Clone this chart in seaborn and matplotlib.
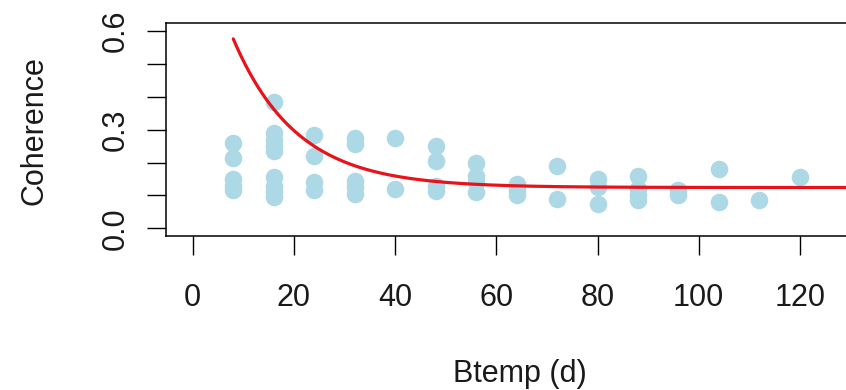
import numpy as np
import pandas as pd
import matplotlib
matplotlib.use("Agg")
import matplotlib.pyplot as plt
import seaborn as sns

# Temporal baseline (days) and coherence of each interferometric pair
btemp = [8, 8, 8, 8, 8,
         16, 16, 16, 16, 16, 16, 16, 16, 16,
         24, 24, 24, 24,
         32, 32, 32, 32, 32,
         40, 40,
         48, 48, 48, 48,
         56, 56, 56, 56,
         64, 64, 64,
         72, 72,
         80, 80, 80,
         88, 88, 88, 88,
         96, 96,
         104, 104,
         112,
         120]
coherence = [0.260, 0.215, 0.150, 0.130, 0.115,
             0.385, 0.290, 0.270, 0.250, 0.235, 0.155, 0.130, 0.110, 0.095,
             0.285, 0.220, 0.140, 0.115,
             0.275, 0.255, 0.145, 0.125, 0.105,
             0.275, 0.120,
             0.250, 0.205, 0.130, 0.112,
             0.200, 0.160, 0.140, 0.110,
             0.135, 0.115, 0.100,
             0.190, 0.090,
             0.150, 0.125, 0.075,
             0.160, 0.120, 0.100, 0.085,
             0.115, 0.100,
             0.180, 0.080,
             0.085,
             0.155]

# Fitted decay model: coherence = c_inf + c_amp * exp(-btemp / tau)
c_inf = 0.124
c_amp = 0.857
tau = 12.5
fit_start, fit_end = 8, 130

x_ticks = [0, 20, 40, 60, 80, 100, 120]
y_ticks = [0.0, 0.1, 0.2, 0.3, 0.4, 0.5, 0.6]
y_ticklabels = ["0.0", "", "", "0.3", "", "", "0.6"]

sns.set_style("white")
plt.rcParams["font.family"] = ["Liberation Sans", "DejaVu Sans"]

points = pd.DataFrame({"btemp": btemp, "coherence": coherence})
grid = np.linspace(fit_start, fit_end, 300)
fit = pd.DataFrame({"btemp": grid,
                    "coherence": c_inf + c_amp * np.exp(-grid / tau)})

fig = plt.figure(figsize=(8.46, 3.90), dpi=100)
ax = fig.add_axes([0.1968, 0.3944, 0.8396, 0.5464])

sns.scatterplot(data=points, x="btemp", y="coherence", ax=ax,
                color="#ADD8E6", s=160, linewidth=0, zorder=2)
sns.lineplot(data=fit, x="btemp", y="coherence", ax=ax,
             color="#E8121A", linewidth=2.3, zorder=3)

ax.set_xlim(-5.2, 135.2)
ax.set_ylim(-0.024, 0.624)

ax.set_xticks(x_ticks)
ax.set_xticklabels([str(t) for t in x_ticks])
ax.set_yticks(y_ticks)
ax.set_yticklabels(y_ticklabels)

for side in ["left", "right", "top", "bottom"]:
    ax.spines[side].set_visible(True)
    ax.spines[side].set_color("black")
    ax.spines[side].set_linewidth(1.1)

ax.tick_params(axis="x", bottom=True, direction="out", length=13.5,
               width=1.0, color="black", labelsize=22, pad=20,
               labelcolor="#1a1a1a")
ax.tick_params(axis="y", left=True, direction="out", length=13.5,
               width=1.0, color="black", labelsize=22, pad=12,
               labelcolor="#1a1a1a")
plt.setp(ax.get_yticklabels(), rotation=90, va="center", ha="right")

ax.set_xlabel("Btemp (d)", fontsize=22, color="#1a1a1a", va="baseline")
ax.xaxis.set_label_coords(0.497, -0.682)
ax.set_ylabel("Coherence", fontsize=22, color="#1a1a1a",
              rotation=90, ha="center", va="center")
ax.yaxis.set_label_coords(-0.186, 0.494)

fig.savefig("out.png", dpi=100)
